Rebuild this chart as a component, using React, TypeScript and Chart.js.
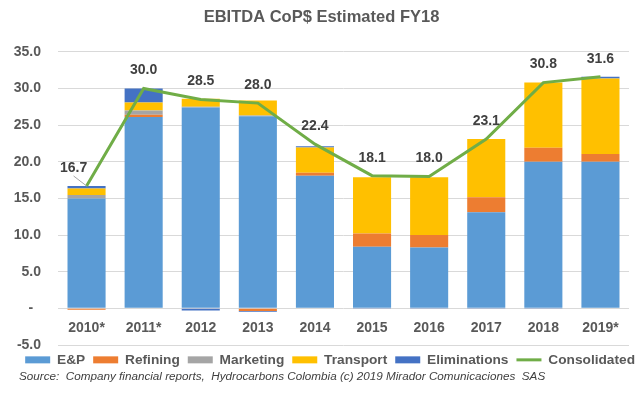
import React, { useEffect, useRef } from "react";
import { Chart, registerables } from "chart.js";

Chart.register(...registerables);

const categories = ["2010*", "2011*", "2012", "2013", "2014", "2015", "2016", "2017", "2018", "2019*"];
const ep = [15.0, 26.1, 27.4, 26.2, 18.1, 8.4, 8.3, 13.1, 20.0, 20.0];
const refining = [-0.2, 0.3, 0, -0.35, 0.4, 1.8, 1.7, 2.05, 1.9, 1.05];
const marketing = [0.45, 0.6, 0.1, 0.1, 0, 0, 0, 0, 0, 0];
const transport = [0.9, 1.1, 1.1, 2.05, 3.45, 7.7, 7.9, 7.95, 8.9, 10.3];
const eliminations = [0.35, 1.9, -0.3, -0.1, 0.15, -0.1, -0.1, -0.1, -0.1, 0.25];
const consolidated = [16.7, 30.0, 28.5, 28.0, 22.4, 18.1, 18.0, 23.1, 30.8, 31.6];

const titleText = "EBITDA CoP$ Estimated FY18";
const sourceText =
  "Source:  Company financial reports,  Hydrocarbons Colombia (c) 2019 Mirador Comunicaciones  SAS";

const FONT = '"Liberation Sans", Arial, sans-serif';

const labelPlugin = {
  id: "consolidatedLabels",
  afterDatasetsDraw(chart: any) {
    const idx = chart.data.datasets.findIndex((d: any) => d.type === "line");
    const meta = chart.getDatasetMeta(idx);
    const ctx = chart.ctx;
    ctx.save();
    ctx.font = `bold 14px ${FONT}`;
    ctx.fillStyle = "#404040";
    ctx.textAlign = "center";
    ctx.textBaseline = "middle";
    meta.data.forEach((pt: any, i: number) => {
      const moved = i === 0;
      const lx = pt.x + (moved ? -13 : 0);
      const ly = pt.y - 18;
      if (moved) {
        ctx.beginPath();
        ctx.strokeStyle = "#A6A6A6";
        ctx.lineWidth = 1;
        ctx.moveTo(lx, ly + 8);
        ctx.lineTo(pt.x, pt.y);
        ctx.stroke();
      }
      ctx.fillText(consolidated[i].toFixed(1), lx, ly);
    });
    ctx.restore();
  },
};

const sourcePlugin = {
  id: "sourceNote",
  afterDraw(chart: any) {
    const ctx = chart.ctx;
    ctx.save();
    ctx.font = `italic 11.7px ${FONT}`;
    ctx.fillStyle = "#404040";
    ctx.textAlign = "left";
    ctx.textBaseline = "middle";
    ctx.fillText(sourceText, 19, 377);
    ctx.restore();
  },
};

export default function App() {
  const ref = useRef<HTMLCanvasElement | null>(null);

  useEffect(() => {
    if (!ref.current) return;
    Chart.defaults.font.family = FONT;
    const barCommon = { type: "bar" as const, borderWidth: 0, yAxisID: "y", xAxisID: "x" };
    const chart = new Chart(ref.current, {
      type: "bar",
      data: {
        labels: categories,
        datasets: [
          { ...barCommon, label: "E&P", data: ep, backgroundColor: "#5B9BD5" },
          { ...barCommon, label: "Refining", data: refining, backgroundColor: "#ED7D31" },
          { ...barCommon, label: "Marketing", data: marketing, backgroundColor: "#A5A5A5" },
          { ...barCommon, label: "Transport", data: transport, backgroundColor: "#FFC000" },
          { ...barCommon, label: "Eliminations", data: eliminations, backgroundColor: "#4472C4" },
          {
            type: "line",
            label: "Consolidated",
            data: consolidated,
            borderColor: "#70AD47",
            backgroundColor: "#70AD47",
            borderWidth: 3,
            pointRadius: 0,
            tension: 0,
            fill: false,
            order: -1,
            yAxisID: "y",
            xAxisID: "x",
          } as any,
        ],
      },
      options: {
        responsive: false,
        animation: false,
        devicePixelRatio: 1,
        layout: { padding: { left: 0, right: 0, top: 0, bottom: 28 } },
        datasets: { bar: { barPercentage: 0.667, categoryPercentage: 1 } },
        scales: {
          x: {
            type: "category",
            axis: "x",
            position: { y: 0 } as any,
            stacked: true,
            offset: true,
            grid: { display: false, drawTicks: false },
            border: { display: false },
            ticks: {
              padding: 11,
              color: "#595959",
              font: { size: 14, weight: "bold", family: FONT },
              maxRotation: 0,
              autoSkip: false,
            },
            afterFit: (s: any) => {
              s.height = 0;
            },
          } as any,
          y: {
            type: "linear",
            position: "left",
            stacked: true,
            min: -5,
            max: 35,
            grid: { color: "#D9D9D9", lineWidth: 1, drawTicks: false },
            border: { display: false },
            ticks: {
              stepSize: 5,
              padding: 17,
              color: "#595959",
              font: { size: 14, weight: "bold", family: FONT },
              callback: (v: any) => (Number(v) === 0 ? "-  " : Number(v).toFixed(1)),
            },
            afterFit: (s: any) => {
              s.width = 58;
            },
          },
          pad: {
            type: "linear",
            position: "right",
            display: true,
            grid: { display: false, drawTicks: false },
            border: { display: false },
            ticks: { display: false },
            afterFit: (s: any) => {
              s.width = 14;
            },
          } as any,
        },
        plugins: {
          title: {
            display: true,
            text: titleText,
            color: "#595959",
            font: { size: 16.5, weight: "bold", family: FONT },
            padding: { top: 8, bottom: 24 },
          },
          legend: {
            display: true,
            position: "bottom",
            align: "end",
            maxHeight: 24,
            labels: {
              color: "#595959",
              font: { size: 13.7, weight: "bold", family: FONT },
              usePointStyle: true,
              pointStyleWidth: 25,
              boxWidth: 25,
              boxHeight: 7,
              padding: 8,
              sort: (a: any, b: any) => a.datasetIndex - b.datasetIndex,
              generateLabels: (chart: any) => {
                const items = Chart.defaults.plugins.legend.labels.generateLabels(chart);
                return items.map((it: any) => {
                  const ds = chart.data.datasets[it.datasetIndex];
                  if (ds.type === "line") {
                    return { ...it, pointStyle: "line", lineWidth: 3, strokeStyle: "#70AD47" };
                  }
                  return { ...it, pointStyle: "rect", lineWidth: 0 };
                });
              },
            },
          },
          tooltip: { enabled: false },
        },
      },
      plugins: [labelPlugin, sourcePlugin],
    });
    return () => chart.destroy();
  }, []);

  return (
    <div style={{ position: "absolute", left: 0, top: 0, width: 643, height: 397, background: "#fff" }}>
      <canvas ref={ref} width={643} height={397} />
    </div>
  );
}
